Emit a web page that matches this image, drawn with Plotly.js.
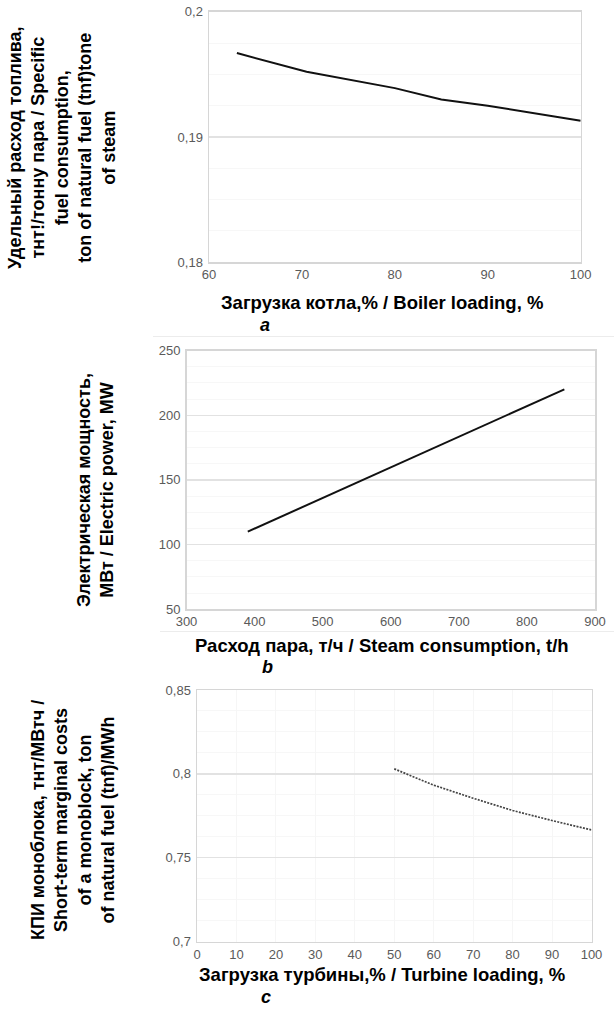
<!DOCTYPE html>
<html>
<head>
<meta charset="utf-8">
<script src="https://cdn.plot.ly/plotly-3.0.1.min.js"></script>
<style>html,body{margin:0;padding:0;background:#fff}#chart{width:614px;height:1012px}</style>
</head>
<body>
<div id="chart"></div>
<script>
// ---- Data ----
const boilerLoad = [63, 70.5, 80, 85, 90, 95, 100];
const fuelRate   = [0.1967, 0.1952, 0.1939, 0.1930, 0.1925, 0.1919, 0.1913];

const steamFlow  = [390, 500, 600, 700, 800, 855];
const elecPower  = [110, 136, 160, 183, 207, 220];

const turbineLoad  = [50, 60, 70, 80, 90, 100];
const marginalCost = [0.803, 0.7933, 0.7855, 0.7782, 0.7722, 0.7666];

const yTitleA = "Удельный расход топлива,<br>тнт!/тонну пара / Specific<br>fuel consumption,<br>ton of natural fuel (tnf)tone<br>of steam";
const xTitleA = "Загрузка котла,% / Boiler loading, %";
const yTitleB = "Электрическая мощность,<br>МВт / Electric power, MW";
const xTitleB = "Расход пара, т/ч / Steam consumption, t/h";
const yTitleC = "КПИ моноблока, тнт/МВтч /<br>Short-term marginal costs<br>of a monoblock, ton<br>of natural fuel (tnf)/MWh";
const xTitleC = "Загрузка турбины,% / Turbine loading, %";
const panelLabels = ["a", "b", "c"];

// ---- Layout helpers ----
const W = 614, H = 1012;
const px = x => x / W;
const py = y => 1 - y / H;

const FONT = "Liberation Sans, Arial, sans-serif";
const tickFont = {family: FONT, size: 13, color: "#5a5a5a"};
const yTitleFont = {family: FONT, size: 18, color: "#000", weight: "bold"};
const xTitleFont = {family: FONT, size: 18.5, color: "#000", weight: "bold"};
const labFont = {family: FONT, size: 18, color: "#000", weight: "bold", style: "italic"};

function axisX(domain, range, dtick, anchor, vgrid) {
  return {
    domain: domain, range: range, dtick: dtick, anchor: anchor,
    showline: true, mirror: true, linecolor: "#d6d6d6", linewidth: 1.5,
    showgrid: vgrid, gridcolor: "#f6f6f6", gridwidth: 1,
    zeroline: false, ticks: "", tickfont: tickFont, fixedrange: true
  };
}
function axisY(domain, range, dtick, anchor) {
  return {
    domain: domain, range: range, dtick: dtick, anchor: anchor,
    showline: true, mirror: true, linecolor: "#d6d6d6", linewidth: 1.5,
    showgrid: true, gridcolor: "#e2e2e2", gridwidth: 1.2,
    zeroline: false, ticks: "", tickfont: tickFont, ticklabelstandoff: 2,
    minor: {showgrid: true, gridcolor: "#f7f7f7", gridwidth: 1, dtick: dtick / 4},
    fixedrange: true
  };
}

const traces = [
  {x: boilerLoad, y: fuelRate, xaxis: "x", yaxis: "y", mode: "lines",
   line: {color: "#111", width: 2}, hoverinfo: "skip"},
  {x: steamFlow, y: elecPower, xaxis: "x2", yaxis: "y2", mode: "lines",
   line: {color: "#111", width: 2}, hoverinfo: "skip"},
  {x: turbineLoad, y: marginalCost, xaxis: "x3", yaxis: "y3", mode: "lines",
   line: {color: "#444", width: 1.7, dash: "2px,1.3px"}, hoverinfo: "skip"}
];

function ann(text, x, y, font, angle) {
  return {text: text, x: px(x), y: py(y), xref: "paper", yref: "paper",
    xanchor: "center", yanchor: "middle", showarrow: false, align: "center",
    font: font, textangle: angle || 0};
}

const layout = {
  width: W, height: H,
  margin: {l: 0, r: 0, t: 0, b: 0, pad: 0},
  paper_bgcolor: "#fff", plot_bgcolor: "#fff",
  showlegend: false, separators: ", ",
  xaxis:  axisX([px(209), px(580.7)], [60, 100], 10, "y", false),
  yaxis:  axisY([py(262.3), py(11.7)], [0.18, 0.2], 0.01, "x"),
  xaxis2: axisX([px(186.5), px(595)], [300, 900], 100, "y2", false),
  yaxis2: axisY([py(609.3), py(350.5)], [50, 250], 50, "x2"),
  xaxis3: axisX([px(197), px(591.5)], [0, 100], 10, "y3", true),
  yaxis3: axisY([py(941.7), py(690)], [0.7, 0.85], 0.05, "x3"),
  annotations: [
    ann(yTitleA, 62, 148, yTitleFont, -90),
    ann(xTitleA, 382, 302, xTitleFont),
    ann(panelLabels[0], 265, 325, labFont),
    ann(yTitleB, 95, 490, yTitleFont, -90),
    ann(xTitleB, 382, 645, xTitleFont),
    ann(panelLabels[1], 267, 667, labFont),
    ann(yTitleC, 73, 820, yTitleFont, -90),
    ann(xTitleC, 382, 974, xTitleFont),
    ann(panelLabels[2], 266, 997, labFont)
  ],
  shapes: [
    {type: "line", xref: "paper", yref: "paper", x0: px(153), x1: 1, y0: py(336.5), y1: py(336.5),
     line: {color: "#ececec", width: 1}},
    {type: "line", xref: "paper", yref: "paper", x0: px(160), x1: 1, y0: py(631.5), y1: py(631.5),
     line: {color: "#ececec", width: 1}}
  ]
};

Plotly.newPlot("chart", traces, layout, {displayModeBar: false, staticPlot: true});
</script>
</body>
</html>
